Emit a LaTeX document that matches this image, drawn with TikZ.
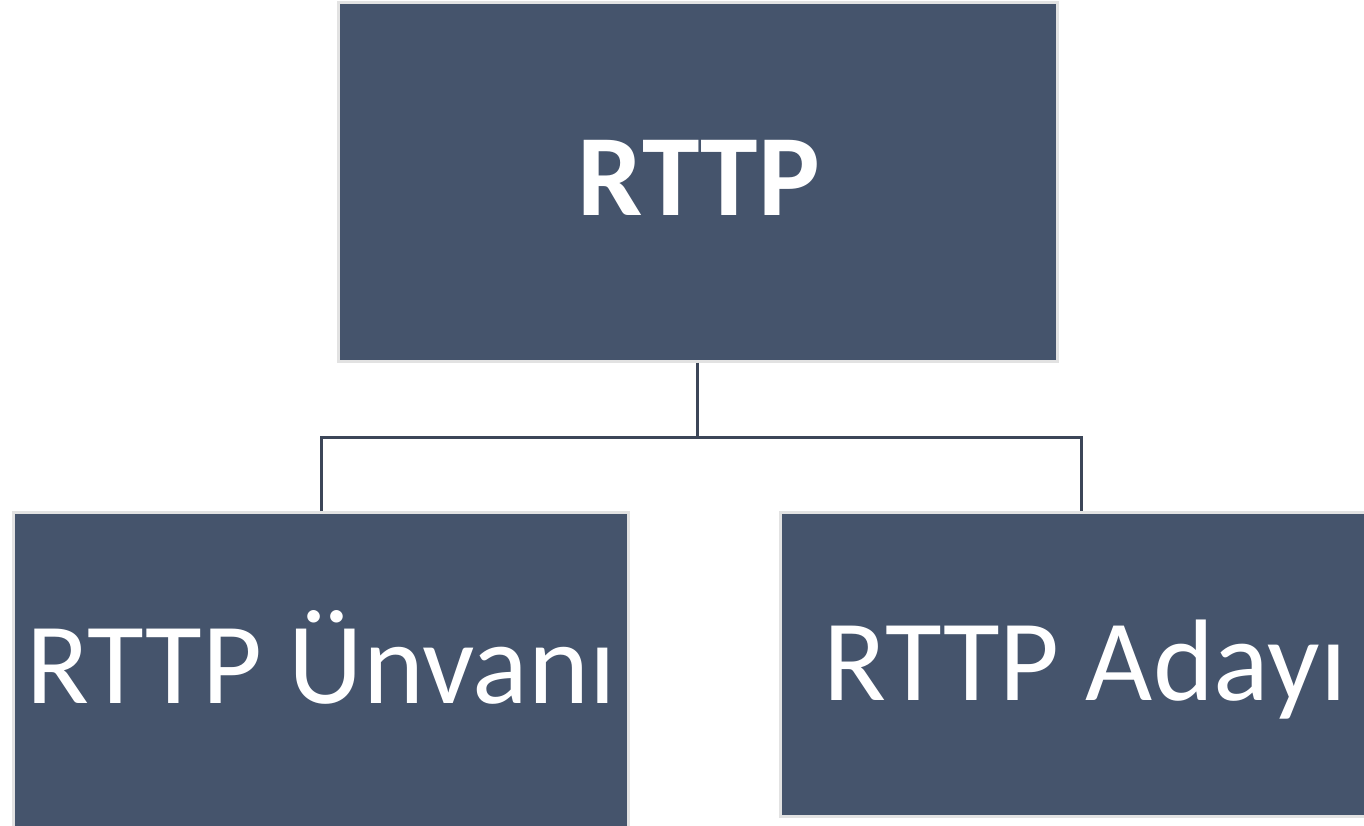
\documentclass[tikz,border=0pt]{standalone}
\usepackage{fontspec}
\setmainfont{Carlito}
\definecolor{boxfill}{HTML}{45546C}
\definecolor{boxedge}{HTML}{E2E2E2}
\definecolor{linkcol}{HTML}{3C4658}
\begin{document}
\begin{tikzpicture}[x=1pt,y=-1pt,
  box/.style={draw=boxedge,fill=boxfill,line width=3pt,rectangle,inner sep=0pt},
  lbl/.style={text=white,inner sep=0pt,anchor=base,font=\fontsize{116}{120}\selectfont},
  link/.style={draw=linkcol,line width=3pt}]
\useasboundingbox (0,0) rectangle (1364,825);
\clip (0,0) rectangle (1364,825);
\node[box,minimum width=719pt,minimum height=359pt] (top) at (697.5,181.5) {};
\node[lbl,font=\fontsize{116}{120}\selectfont\bfseries] (toptext) at (699,215) {RTTP};
\node[box,minimum width=615pt,minimum height=340pt] (left) at (321,682.5) {};
\node[lbl] (lefttext) at (321,703) {RTTP Ünvanı};
\node[box,minimum width=600pt,minimum height=304pt] (right) at (1080.5,664) {};
\node[lbl] (righttext) at (1085,700) {RTTP Adayı};
\coordinate (mid) at (697.5,437);
\draw[link] (top.south) -- (mid);
\draw[link] (left.north -| 321,0) |- (mid) -| (1081,511);
\end{tikzpicture}
\end{document}
